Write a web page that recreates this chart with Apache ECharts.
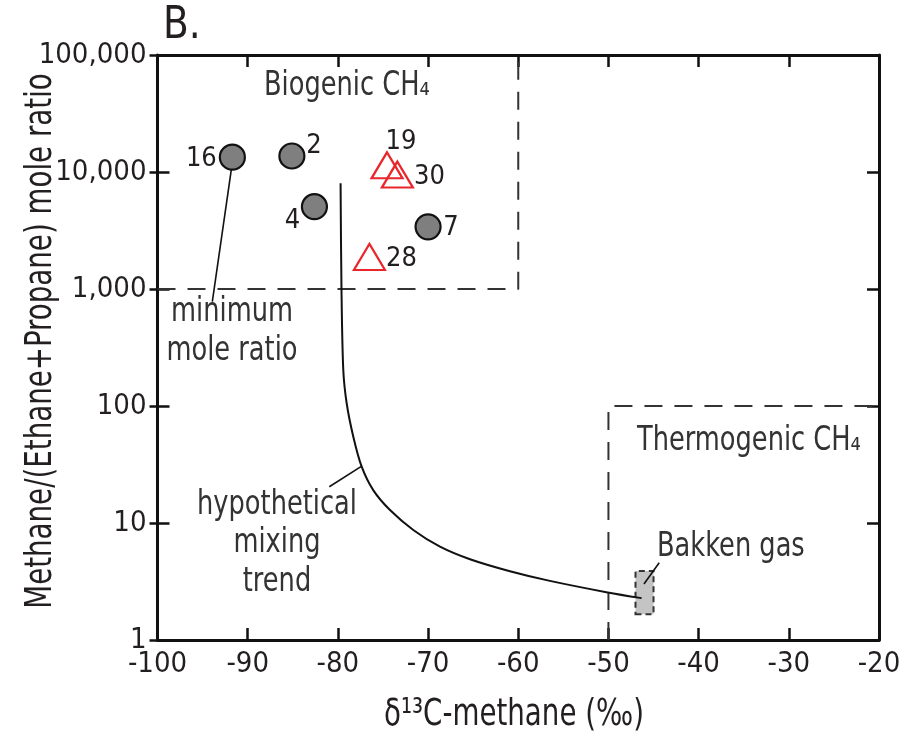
<!DOCTYPE html>
<html><head><meta charset="utf-8">
<script src="https://cdn.jsdelivr.net/npm/echarts@6/dist/echarts.min.js"></script>
<style>html,body{margin:0;padding:0;background:#fff}#c{width:909px;height:742px}</style>
</head><body><div id="c"></div>
<script>
// ---- data ----
const xMin = -100, xMax = -20, xStep = 10;
const yTickLabels = ['1', '10', '100', '1,000', '10,000', '100,000'];

const circleNames = ['16', '2', '4', '7'];
const circleX = [-91.7, -85.1, -82.6, -70.0];
const circleY = [13400, 13700, 5050, 3400];

const triNames = ['19', '30', '28'];
const triX = [-74.55, -73.4, -76.5];
const triY = [11400, 9500, 1880];

// hypothetical mixing trend
const mixX = [-79.7, -79.6, -79.4, -79.02, -78.29, -77.36, -76.08, -74.22, -71.64, -68.68, -65.35, -60.92, -56.49, -50.09, -46.32];
const mixY = [8000, 1000, 203, 105, 54.7, 30.3, 19.1, 12.9, 8.72, 6.28, 4.90, 3.87, 3.20, 2.55, 2.28];

// field boundaries
const bioBoxX = [-100, -60, -60];
const bioBoxY = [1000, 1000, 100000];
const thermoBoxX = [-50, -50, -20];
const thermoBoxY = [1, 100, 100];
const bakkenX = [-47, -45];
const bakkenY = [1.66, 3.89];

// annotation leader lines (data coords)
const leaderMinX = [-91.74, -93.92];
const leaderMinY = [11500, 779];
const leaderMixX = [-80.95, -77.4];
const leaderMixY = [20.4, 30.5];
const leaderBakX = [-46.06, -44.37];
const leaderBakY = [3.01, 4.58];

// ---- layout / style ----
const FF = "'Liberation Sans Narrow', 'DejaVu Sans Condensed', 'Liberation Sans', sans-serif";
const INK = '#231f20';
const NOTE = '#333333';
const SQ = 0.865; // horizontal squeeze to imitate a condensed face
const circleLabelOffset = [[-31, 2], [22, -10], [-22, 14], [23, 1]];
const triLabelOffset = [[14, -23.5], [32, 2.5], [32, 2]];

const zip = (a, b) => a.map((v, i) => [v, b[i]]);

const chart = echarts.init(document.getElementById('c'), null, {renderer: 'canvas'});

const axisLineStyle = {color: '#111', width: 3};
const tickStyle = {color: '#111', width: 2.5};

function leader(xs, ys) {
  return {
    type: 'line', data: zip(xs, ys), symbol: 'none', silent: true, z: 3,
    lineStyle: {color: '#111', width: 1.6}, clip: false
  };
}
function note(text, x, y, opts) {
  return Object.assign({
    type: 'text', x: x, y: y, silent: true, scaleX: SQ,
    style: Object.assign({text: text, fontSize: 33, fontFamily: FF, fill: NOTE, align: 'left', verticalAlign: 'middle'}, (opts && opts.style) || {})
  }, (opts && opts.el) || {});
}

const option = {
  animation: false,
  backgroundColor: '#fff',
  grid: {left: 157.5, right: 30, top: 55, bottom: 102, containLabel: false, outerBoundsMode: 'none'},
  xAxis: [
    {
      type: 'value', min: xMin, max: xMax, interval: xStep, position: 'bottom',
      axisLine: {lineStyle: axisLineStyle},
      axisTick: {inside: true, length: 12, lineStyle: tickStyle},
      axisLabel: {fontSize: 29, color: INK, margin: 10, fontFamily: FF},
      splitLine: {show: false}
    },
    {
      type: 'value', min: xMin, max: xMax, interval: xStep, position: 'top',
      axisLine: {lineStyle: axisLineStyle},
      axisTick: {inside: true, length: 12, lineStyle: tickStyle},
      axisLabel: {show: false}, splitLine: {show: false}
    }
  ],
  yAxis: [
    {
      type: 'log', logBase: 10, min: 1, max: 100000, splitNumber: 5, position: 'left',
      axisLine: {lineStyle: axisLineStyle},
      axisTick: {inside: true, length: 12, lineStyle: tickStyle},
      axisLabel: {
        fontSize: 29, color: INK, margin: 11, fontFamily: FF, padding: [5, 0, 0, 0],
        formatter: v => yTickLabels[Math.round(Math.log10(v))]
      },
      splitLine: {show: false}
    },
    {
      type: 'log', logBase: 10, min: 1, max: 100000, splitNumber: 5, position: 'right',
      axisLine: {lineStyle: axisLineStyle},
      axisTick: {inside: true, length: 12, lineStyle: tickStyle},
      axisLabel: {show: false}, splitLine: {show: false}
    },
    {
      type: 'log', logBase: 10, min: 1, max: 100000, splitNumber: 5, position: 'left',
      axisLine: {show: false},
      axisTick: {inside: false, length: 8, lineStyle: tickStyle},
      axisLabel: {show: false}, splitLine: {show: false}
    }
  ],
  series: [
    {
      name: 'Biogenic field', type: 'line', data: zip(bioBoxX, bioBoxY), symbol: 'none', silent: true, z: 1,
      lineStyle: {color: '#333', width: 2, type: [18, 12]}, clip: false
    },
    {
      name: 'Thermogenic field', type: 'line', data: zip(thermoBoxX, thermoBoxY), symbol: 'none', silent: true, z: 1,
      lineStyle: {color: '#333', width: 2, type: [18, 12]}, clip: false,
      markArea: {
        silent: true,
        itemStyle: {color: '#c4c4c4', borderColor: '#333', borderWidth: 2, borderType: [6, 4]},
        data: [[{coord: [bakkenX[0], bakkenY[0]]}, {coord: [bakkenX[1], bakkenY[1]]}]]
      }
    },
    {
      name: 'Mixing trend', type: 'line', data: zip(mixX, mixY), symbol: 'none', silent: true, z: 3,
      smooth: 0.3,
      lineStyle: {color: '#111', width: 2}
    },
    leader(leaderMinX, leaderMinY),
    leader(leaderMixX, leaderMixY),
    leader(leaderBakX, leaderBakY),
    {
      name: 'Samples (circles)', type: 'scatter', z: 5, silent: true,
      symbol: 'circle', symbolSize: 25,
      itemStyle: {color: '#7f7f7f', borderColor: '#111', borderWidth: 2.2, opacity: 1},
      data: circleX.map((x, i) => ({
        value: [x, circleY[i]], name: circleNames[i],
        label: {offset: circleLabelOffset[i]}
      })),
      label: {
        show: true, position: 'inside', formatter: p => p.name,
        fontSize: 27, color: INK, fontFamily: FF
      }
    },
    {
      name: 'Samples (triangles)', type: 'scatter', z: 6, silent: true,
      symbol: 'triangle', symbolSize: [31, 26],
      itemStyle: {color: 'rgba(255,255,255,0)', borderColor: '#e8262b', borderWidth: 2.2, opacity: 1},
      data: triX.map((x, i) => ({
        value: [x, triY[i]], name: triNames[i],
        label: {offset: triLabelOffset[i]}
      })),
      label: {
        show: true, position: 'inside', formatter: p => p.name,
        fontSize: 27, color: INK, fontFamily: FF
      }
    }
  ],
  graphic: [
    {type: 'text', x: 163, y: 27, silent: true, scaleX: 0.95,
     style: {text: 'B.', fontSize: 44, fontFamily: FF, fill: INK, align: 'left', verticalAlign: 'middle'}},
    // axis titles
    {type: 'text', x: 514, y: 715, silent: true, scaleX: 0.81,
     style: {text: 'δ¹³C-methane (‰)', fontSize: 38, fontFamily: FF, fill: INK, align: 'center', verticalAlign: 'middle'}},
    {type: 'text', x: 41, y: 341, silent: true, scaleX: 0.81, rotation: Math.PI / 2,
     style: {text: 'Methane/(Ethane+Propane) mole ratio', fontSize: 38, fontFamily: FF, fill: INK, align: 'center', verticalAlign: 'middle'}},
    // field / feature notes
    note('Biogenic CH₄', 264, 86),
    note('Thermogenic CH₄', 637, 441),
    note('Bakken gas', 657, 547),
    note('hypothetical\nmixing\ntrend', 277, 486, {style: {align: 'center', verticalAlign: 'top', lineHeight: 38.5}}),
    note('minimum\nmole ratio', 232, 292.5, {style: {align: 'center', verticalAlign: 'top', lineHeight: 39}})
  ]
};
chart.setOption(option);
</script>
</body></html>
